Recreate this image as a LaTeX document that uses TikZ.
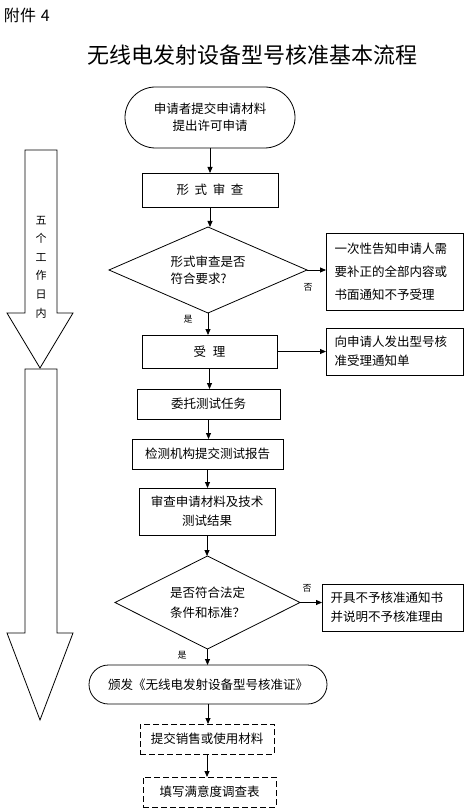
\documentclass[tikz,border=0pt]{standalone}
\usepackage{fontspec}
\setmainfont{Noto Sans CJK SC}
\usetikzlibrary{arrows.meta,shapes.geometric,shapes.misc}
\begin{document}
\begin{tikzpicture}[x=1pt,y=-1pt,
  every node/.style={inner sep=0pt, outer sep=0pt},
  txt/.style={font=\fontsize{12.5}{15}\selectfont},
  box/.style={draw, line width=0.8pt, rectangle, txt, align=center},
  sidebox/.style={draw, line width=0.8pt, rectangle, align=left, inner xsep=8pt, text width=120pt},
  dbox/.style={box, dash pattern=on 6pt off 3pt},
  term/.style={draw, line width=0.8pt, rounded rectangle, txt, align=center},
  dec/.style={draw, line width=0.8pt, diamond, aspect=2.2, align=left},
  lbl/.style={font=\fontsize{9}{10}\selectfont},
  arr/.style={-{Triangle[length=6pt,width=5pt]}, line width=0.8pt},
  bigarrow/.style={draw, line width=0.8pt}
]
\useasboundingbox (0,0) rectangle (475,810);

% heading and title
\node[anchor=west, font=\fontsize{16}{18}\selectfont] (att) at (4,15) {附件\hspace{0.3em}4};
\node[font=\fontsize{22}{26}\selectfont] (title) at (252,55) {无线电发射设备型号核准基本流程};

% left time arrows
\draw[bigarrow] (25,150) -- (57,150) -- (57,313) -- (73,313) -- (40,368) -- (7,313) -- (25,313) -- cycle;
\draw[bigarrow] (25,369) -- (57,369) -- (57,633) -- (73,633) -- (40,720) -- (7,633) -- (25,633) -- cycle;
\node[font=\fontsize{11}{18.6}\selectfont, align=center] (days) at (41,267) {五\\个\\工\\作\\日\\内};

% main flow
\node[term, minimum width=170pt, minimum height=61pt, font=\fontsize{12.5}{17}\selectfont] (start) at (210,117.5) {申请者提交申请材料\\提出许可申请};
\node[box, minimum width=136pt, minimum height=34pt] (review) at (210,190) {形\hspace{0.45em}式\hspace{0.45em}审\hspace{0.45em}查};
\node[dec, minimum width=198pt, minimum height=86pt, font=\fontsize{12.5}{16.5}\selectfont] (dec1) at (208,270) {形式审查是否\\符合要求?};
\node[sidebox, minimum width=137pt, minimum height=77pt, font=\fontsize{12.5}{23}\selectfont] (note1) at (394.5,271.5) {一次性告知申请人需\\要补正的全部内容或\\书面通知不予受理};
\node[box, minimum width=135pt, minimum height=33pt] (accept) at (209.5,351.5) {受\hspace{0.55em}理};
\node[sidebox, minimum width=137pt, minimum height=47pt, font=\fontsize{12.5}{19}\selectfont] (note2) at (394.5,351.5) {向申请人发出型号核\\准受理通知单};
\node[box, minimum width=143pt, minimum height=30pt] (entrust) at (208.5,404) {委托测试任务};
\node[box, minimum width=151pt, minimum height=30pt] (report) at (207.5,454) {检测机构提交测试报告};
\node[box, minimum width=136pt, minimum height=47pt, font=\fontsize{12.5}{19}\selectfont] (exam) at (207,511.5) {审查申请材料及技术\\测试结果};
\node[dec, minimum width=185pt, minimum height=93pt, font=\fontsize{12.5}{20}\selectfont] (dec2) at (207.5,602.5) {是否符合法定\\条件和标准？};
\node[sidebox, minimum width=141pt, minimum height=47pt, text width=124pt, font=\fontsize{12.5}{19}\selectfont] (note3) at (392.5,607.5) {开具不予核准通知书\\并说明不予核准理由};
\node[term, minimum width=238pt, minimum height=39pt] (issue) at (208,684.5) {颁发《无线电发射设备型号核准证》};
\node[dbox, minimum width=134pt, minimum height=30pt] (submit) at (207,739) {提交销售或使用材料};
\node[dbox, minimum width=133pt, minimum height=30pt] (survey) at (209.5,792) {填写满意度调查表};

% connectors
\draw[arr] (start.south) -- (start.south |- review.north);
\draw[arr] (review.south) -- (review.south |- dec1.north);
\draw[arr] (dec1.east) -- (note1.west |- dec1.east);
\draw[arr] (dec1.south) -- (dec1.south |- accept.north);
\draw[arr] (accept.east) -- (note2.west |- accept.east);
\draw[arr] (accept.south) -- (accept.south |- entrust.north);
\draw[arr] (entrust.south) -- (entrust.south |- report.north);
\draw[arr] (report.south) -- (report.south |- exam.north);
\draw[arr] (exam.south) -- (exam.south |- dec2.north);
\draw[arr] (dec2.east) -- (note3.west |- dec2.east);
\draw[arr] (dec2.south) -- (dec2.south |- issue.north);
\draw[arr] (issue.south) -- (issue.south |- submit.north);
\draw[arr] (submit.south) -- (submit.south |- survey.north);

% labels
\node[lbl] (no1) at (308,287) {否};
\node[lbl] (yes1) at (188,319) {是};
\node[lbl] (no2) at (307,588) {否};
\node[lbl] (yes2) at (182,655) {是};
\end{tikzpicture}
\end{document}
